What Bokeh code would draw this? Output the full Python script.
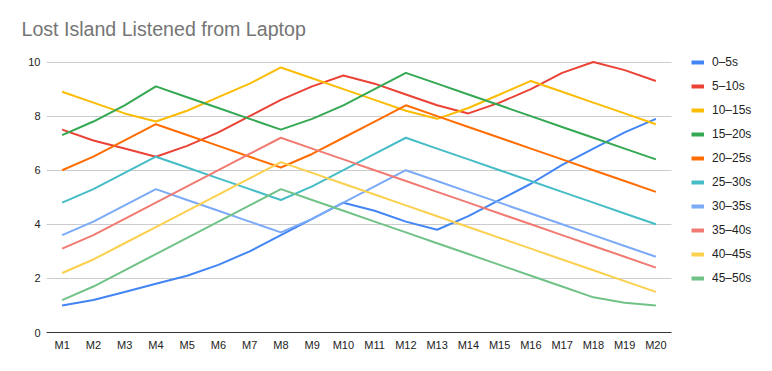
from bokeh.plotting import figure
from bokeh.models import ColumnDataSource, Range1d, FixedTicker, Legend, LegendItem
from bokeh.embed import file_html
from bokeh.resources import INLINE

months = ["M%d" % i for i in range(1, 21)]
series_names = ["0\u20135s", "5\u201310s", "10\u201315s", "15\u201320s", "20\u201325s",
                "25\u201330s", "30\u201335s", "35\u201340s", "40\u201345s", "45\u201350s"]

s0_5 = [1.0, 1.2, 1.5, 1.8, 2.1, 2.5, 3.0, 3.6, 4.2, 4.8, 4.5, 4.1, 3.8, 4.3, 4.9, 5.5, 6.2, 6.8, 7.4, 7.9]
s5_10 = [7.5, 7.1, 6.8, 6.5, 6.9, 7.4, 8.0, 8.6, 9.1, 9.5, 9.2, 8.8, 8.4, 8.1, 8.5, 9.0, 9.6, 10.0, 9.7, 9.3]
s10_15 = [8.9, 8.5, 8.1, 7.8, 8.2, 8.7, 9.2, 9.8, 9.4, 9.0, 8.6, 8.2, 7.9, 8.3, 8.8, 9.3, 8.9, 8.5, 8.1, 7.7]
s15_20 = [7.3, 7.8, 8.4, 9.1, 8.7, 8.3, 7.9, 7.5, 7.9, 8.4, 9.0, 9.6, 9.2, 8.8, 8.4, 8.0, 7.6, 7.2, 6.8, 6.4]
s20_25 = [6.0, 6.5, 7.1, 7.7, 7.3, 6.9, 6.5, 6.1, 6.6, 7.2, 7.8, 8.4, 8.0, 7.6, 7.2, 6.8, 6.4, 6.0, 5.6, 5.2]
s25_30 = [4.8, 5.3, 5.9, 6.5, 6.1, 5.7, 5.3, 4.9, 5.4, 6.0, 6.6, 7.2, 6.8, 6.4, 6.0, 5.6, 5.2, 4.8, 4.4, 4.0]
s30_35 = [3.6, 4.1, 4.7, 5.3, 4.9, 4.5, 4.1, 3.7, 4.2, 4.8, 5.4, 6.0, 5.6, 5.2, 4.8, 4.4, 4.0, 3.6, 3.2, 2.8]
s35_40 = [3.1, 3.6, 4.2, 4.8, 5.4, 6.0, 6.6, 7.2, 6.8, 6.4, 6.0, 5.6, 5.2, 4.8, 4.4, 4.0, 3.6, 3.2, 2.8, 2.4]
s40_45 = [2.2, 2.7, 3.3, 3.9, 4.5, 5.1, 5.7, 6.3, 5.9, 5.5, 5.1, 4.7, 4.3, 3.9, 3.5, 3.1, 2.7, 2.3, 1.9, 1.5]
s45_50 = [1.2, 1.7, 2.3, 2.9, 3.5, 4.1, 4.7, 5.3, 4.9, 4.5, 4.1, 3.7, 3.3, 2.9, 2.5, 2.1, 1.7, 1.3, 1.1, 1.0]

all_series = [s0_5, s5_10, s10_15, s15_20, s20_25, s25_30, s30_35, s35_40, s40_45, s45_50]
colors = ["#4285F4", "#EA4335", "#FBBC04", "#34A853", "#FF6D01",
          "#46BDC6", "#7BAAF7", "#F07B72", "#FCD04F", "#71C287"]
y_ticks = [0, 2, 4, 6, 8, 10]

FONT = "Liberation Sans"

xpos = list(range(1, len(months) + 1))
x_lo, x_hi = 0.5, len(months) + 0.5
W, H = 772, 371
ML, MR, MT, MB = 46, 5, 48, 39
px_per_cat = 31.25
x_end = x_lo + (W - ML - MR) / px_per_cat

p = figure(width=W, height=H, x_range=Range1d(x_lo, x_end), y_range=Range1d(0, 10.5),
           output_backend="svg", toolbar_location=None,
           min_border_left=ML, min_border_right=MR, min_border_top=MT, min_border_bottom=MB)
p.outline_line_color = None
p.background_fill_color = "white"
p.border_fill_color = "white"

p.title.text = "Lost Island Listened from Laptop"
p.title.text_font = FONT
p.title.text_font_size = "19.6px"
p.title.text_font_style = "normal"
p.title.text_color = "#757575"
p.title.align = "left"
p.title.offset = -25
p.title.standoff = 18

p.yaxis.ticker = FixedTicker(ticks=y_ticks)
p.yaxis.axis_line_color = None
p.yaxis.major_tick_line_color = None
p.yaxis.minor_tick_line_color = None
p.yaxis.major_label_text_font = FONT
p.yaxis.major_label_text_font_size = "11px"
p.yaxis.major_label_text_color = "#222222"
p.yaxis.major_label_standoff = 0

p.xaxis.ticker = FixedTicker(ticks=xpos)
p.xaxis.major_label_overrides = {x: m for x, m in zip(xpos, months)}
p.xaxis.bounds = (x_lo, x_hi)
p.xaxis.axis_line_color = "#333333"
p.xaxis.axis_line_width = 1
p.xaxis.major_tick_line_color = None
p.xaxis.minor_tick_line_color = None
p.xaxis.major_label_text_font = FONT
p.xaxis.major_label_text_font_size = "11px"
p.xaxis.major_label_text_color = "#222222"
p.xaxis.major_label_standoff = 0

p.xgrid.grid_line_color = None
p.ygrid.grid_line_color = "#cccccc"
p.ygrid.grid_line_width = 1
p.ygrid.ticker = FixedTicker(ticks=y_ticks)
p.ygrid.cross_bounds = (x_lo, x_hi)

items = []
for name, vals, col in zip(series_names, all_series, colors):
    src = ColumnDataSource(dict(x=xpos, y=vals))
    p.line("x", "y", source=src, line_color=col, line_width=2)
    dummy = p.line(x=[xpos[0]], y=[float("nan")], line_color=col, line_width=4)
    items.append(LegendItem(label=name, renderers=[dummy]))

legend = Legend(items=items, location=(645, 46), orientation="vertical",
                glyph_width=13, glyph_height=16, label_height=16, spacing=8,
                label_standoff=8, padding=0, margin=0,
                label_text_font=FONT, label_text_font_size="12px", label_text_color="#222222",
                border_line_color=None, background_fill_alpha=0)
p.add_layout(legend, "center")

open("out.html", "w").write(file_html(p, INLINE))
